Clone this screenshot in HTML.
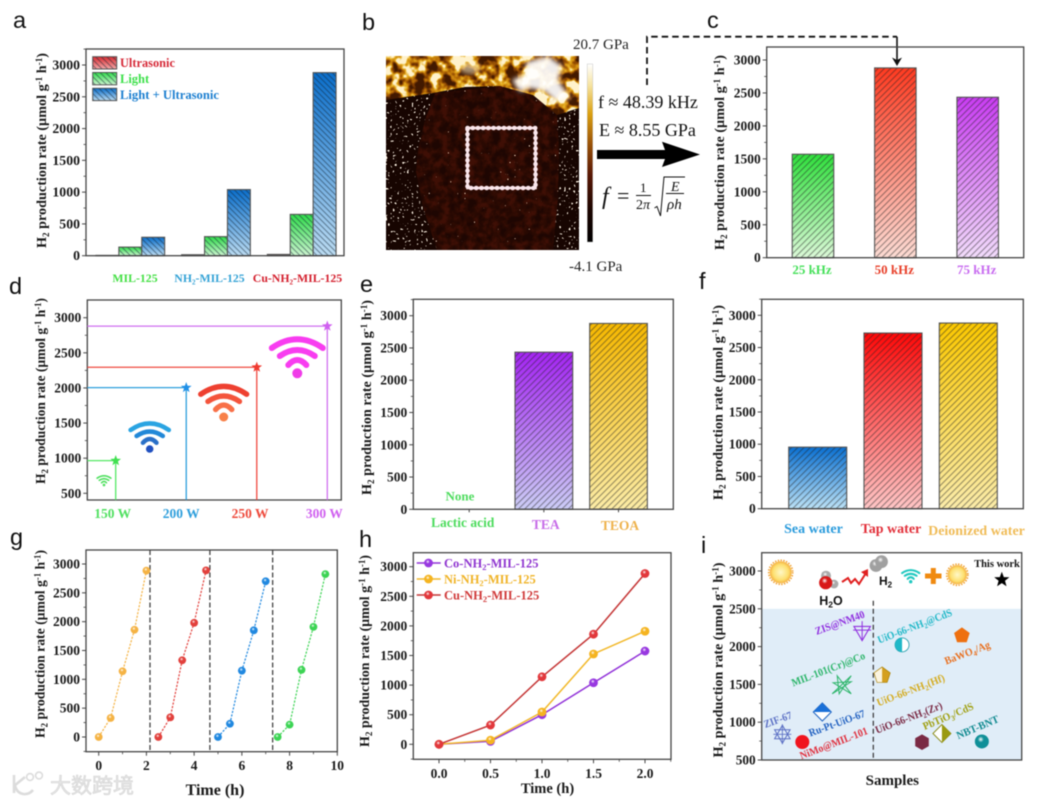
<!DOCTYPE html>
<html lang="en">
<head>
<meta charset="utf-8">
<title>H2 production rate figure</title>
<style>
html,body{margin:0;padding:0;background:#fff;}
svg{display:block;filter:blur(.45px);}
text{font-family:"Liberation Serif","Noto Serif CJK SC",serif;}
.letter{font-family:"Liberation Sans",sans-serif;font-size:23.5px;fill:#111;}
.ytitle{font-weight:bold;font-size:14px;fill:#1a1a1a;text-anchor:middle;}
.il{font-weight:bold;font-size:10.8px;text-anchor:middle;}
.afm{font-size:15px;fill:#222;}
.afmb{font-size:18px;fill:#111;}
</style>
</head>
<body>
<svg id="fig" width="1041" height="803" viewBox="0 0 1041 803" xmlns="http://www.w3.org/2000/svg">
<defs id="defs">
  <pattern id="hatchF" width="4" height="4" patternUnits="userSpaceOnUse" patternTransform="rotate(45)"><rect width="4" height="1.1" fill="#123" fill-opacity=".46"/></pattern>
  <pattern id="hatchB" width="4.4" height="4.4" patternUnits="userSpaceOnUse" patternTransform="rotate(-45)"><rect width="4.4" height="1.1" fill="#222" fill-opacity=".46"/></pattern>
  <linearGradient id="cbar" x1="0" y1="0" x2="0" y2="1">
    <stop offset="0" stop-color="#fff"/><stop offset=".12" stop-color="#f6e3a0"/><stop offset=".28" stop-color="#dba010"/><stop offset=".45" stop-color="#9a5208"/><stop offset=".62" stop-color="#5a1805"/><stop offset=".82" stop-color="#1c0500"/><stop offset="1" stop-color="#000"/>
  </linearGradient>
  <radialGradient id="sunG" cx=".5" cy=".5" r=".5"><stop offset="0" stop-color="#fff8c8"/><stop offset=".7" stop-color="#fde070"/><stop offset="1" stop-color="#f5b040"/></radialGradient>
  <clipPath id="afmClip"><rect x="386" y="56" width="193" height="194"/></clipPath>
  <filter id="goldNoise" x="0" y="0" width="1" height="1" color-interpolation-filters="sRGB">
    <feTurbulence type="fractalNoise" baseFrequency="0.075" numOctaves="3" seed="11" result="n"/>
    <feColorMatrix in="n" type="matrix" values="3.4 0 0 0 -1.2  3.4 0 0 0 -1.2  3.4 0 0 0 -1.2  0 0 0 0 1"/>
    <feComponentTransfer>
      <feFuncR type="table" tableValues=".26 .5 .74 .9 1"/>
      <feFuncG type="table" tableValues=".1 .24 .45 .68 .95"/>
      <feFuncB type="table" tableValues="0 .01 .03 .12 .8"/>
    </feComponentTransfer>
    <feComposite in2="SourceGraphic" operator="in"/>
  </filter>
  <filter id="brownNoise" x="0" y="0" width="1" height="1" color-interpolation-filters="sRGB">
    <feTurbulence type="fractalNoise" baseFrequency="0.12" numOctaves="3" seed="4" result="n"/>
    <feColorMatrix in="n" type="matrix" values="2.5 0 0 0 -.75  2.5 0 0 0 -.75  2.5 0 0 0 -.75  0 0 0 0 1"/>
    <feComponentTransfer>
      <feFuncR type="table" tableValues=".12 .17 .25"/>
      <feFuncG type="table" tableValues=".025 .04 .06"/>
      <feFuncB type="table" tableValues=".01 .01 .02"/>
    </feComponentTransfer>
    <feComposite in2="SourceGraphic" operator="in"/>
  </filter>
  <filter id="speckle" x="0" y="0" width="1" height="1" color-interpolation-filters="sRGB">
    <feTurbulence type="fractalNoise" baseFrequency="0.42" numOctaves="1" seed="9" result="n"/>
    <feColorMatrix in="n" type="matrix" values="0 0 0 0 1  0 0 0 0 .96  0 0 0 0 .9  20 0 0 0 -13"/>
    <feComposite in2="SourceGraphic" operator="in"/>
  </filter>
  <filter id="speckleLow" x="0" y="0" width="1" height="1" color-interpolation-filters="sRGB">
    <feTurbulence type="fractalNoise" baseFrequency="0.42" numOctaves="1" seed="21" result="n"/>
    <feColorMatrix in="n" type="matrix" values="0 0 0 0 1  0 0 0 0 .9  0 0 0 0 .8  20 0 0 0 -15"/>
    <feComposite in2="SourceGraphic" operator="in"/>
  </filter>
  <filter id="soft"><feGaussianBlur stdDeviation="2.4"/></filter>
</defs>
<rect width="1041" height="803" fill="#fff"/>

<!-- Panel letters -->
<text class="letter" x="13" y="28">a</text>
<text class="letter" x="362" y="30">b</text>
<text class="letter" x="707" y="28">c</text>
<text class="letter" x="9" y="294">d</text>
<text class="letter" x="360" y="292">e</text>
<text class="letter" x="699" y="289">f</text>
<text class="letter" x="10" y="545">g</text>
<text class="letter" x="359" y="547">h</text>
<text class="letter" x="701" y="553">i</text>

<!-- Y titles -->
<text class="ytitle" transform="translate(46,150.5) rotate(-90)" textLength="195" lengthAdjust="spacingAndGlyphs">H<tspan dy="3" font-size="9">2</tspan><tspan dy="-3"> production rate (µmol g</tspan><tspan dy="-4" font-size="9">-1</tspan><tspan dy="4"> h</tspan><tspan dy="-4" font-size="9">-1</tspan><tspan dy="4">)</tspan></text>
<text class="ytitle" transform="translate(724,152.5) rotate(-90)" textLength="195" lengthAdjust="spacingAndGlyphs">H<tspan dy="3" font-size="9">2</tspan><tspan dy="-3"> production rate (µmol g</tspan><tspan dy="-4" font-size="9">-1</tspan><tspan dy="4"> h</tspan><tspan dy="-4" font-size="9">-1</tspan><tspan dy="4">)</tspan></text>
<text class="ytitle" transform="translate(45,391) rotate(-90)" textLength="186" lengthAdjust="spacingAndGlyphs">H<tspan dy="3" font-size="9">2</tspan><tspan dy="-3"> production rate (µmol g</tspan><tspan dy="-4" font-size="9">-1</tspan><tspan dy="4"> h</tspan><tspan dy="-4" font-size="9">-1</tspan><tspan dy="4">)</tspan></text>
<text class="ytitle" transform="translate(371,397.5) rotate(-90)" textLength="195" lengthAdjust="spacingAndGlyphs">H<tspan dy="3" font-size="9">2</tspan><tspan dy="-3"> production rate (µmol g</tspan><tspan dy="-4" font-size="9">-1</tspan><tspan dy="4"> h</tspan><tspan dy="-4" font-size="9">-1</tspan><tspan dy="4">)</tspan></text>
<text class="ytitle" transform="translate(722.5,402.5) rotate(-90)" textLength="195" lengthAdjust="spacingAndGlyphs">H<tspan dy="3" font-size="9">2</tspan><tspan dy="-3"> production rate (µmol g</tspan><tspan dy="-4" font-size="9">-1</tspan><tspan dy="4"> h</tspan><tspan dy="-4" font-size="9">-1</tspan><tspan dy="4">)</tspan></text>
<text class="ytitle" transform="translate(44.5,644) rotate(-90)" textLength="188" lengthAdjust="spacingAndGlyphs">H<tspan dy="3" font-size="9">2</tspan><tspan dy="-3"> production rate (µmol g</tspan><tspan dy="-4" font-size="9">-1</tspan><tspan dy="4"> h</tspan><tspan dy="-4" font-size="9">-1</tspan><tspan dy="4">)</tspan></text>
<text class="ytitle" transform="translate(369,651) rotate(-90)" textLength="192" lengthAdjust="spacingAndGlyphs">H<tspan dy="3" font-size="9">2</tspan><tspan dy="-3"> production rate (µmol g</tspan><tspan dy="-4" font-size="9">-1</tspan><tspan dy="4"> h</tspan><tspan dy="-4" font-size="9">-1</tspan><tspan dy="4">)</tspan></text>
<text class="ytitle" transform="translate(722.5,660) rotate(-90)" textLength="195" lengthAdjust="spacingAndGlyphs">H<tspan dy="3" font-size="9">2</tspan><tspan dy="-3"> production rate (µmol g</tspan><tspan dy="-4" font-size="9">-1</tspan><tspan dy="4"> h</tspan><tspan dy="-4" font-size="9">-1</tspan><tspan dy="4">)</tspan></text>

<!-- Panel b: modulus map -->
<g clip-path="url(#afmClip)">
  <rect x="386" y="56" width="193" height="194" fill="#170501"/>
  <rect x="386" y="56" width="193" height="194" fill="#fff" filter="url(#speckle)"/>
  <path d="M435,93 L425,120 L418,150 L416,172 L423,207 L437,250 L553,250 L558,197 L559,150 L557,115 L533,95 L500,86 Z" fill="#fff" filter="url(#brownNoise)"/>
  <path d="M435,93 L425,120 L418,150 L416,172 L423,207 L437,250 L553,250 L558,197 L559,150 L557,115 L533,95 L500,86 Z" fill="#fff" filter="url(#speckleLow)"/>
  <path d="M386,56 H579 V108 L557,115 L533,95 L500,86 L465,87 L433,93 L386,100 Z" fill="#fff" filter="url(#goldNoise)"/>
  <path d="M526,62 L548,56 L562,66 L558,80 L570,98 L556,102 L546,92 L530,88 L520,92 L512,80 L526,74 Z" fill="#fff" fill-opacity=".92" filter="url(#soft)"/>
  <ellipse cx="470" cy="68" rx="10" ry="6" fill="#fff6d0" fill-opacity=".55" filter="url(#soft)"/>
  <rect x="467.5" y="128" width="68" height="60" fill="none" stroke="#fae6ec" stroke-width="2.6"/>
  <rect x="467.5" y="128" width="68" height="60" fill="none" stroke="#fae6ec" stroke-width="4.6" stroke-linecap="round" stroke-dasharray="0.1 5.1"/>
</g>
<rect x="587.3" y="64" width="5.5" height="178" fill="url(#cbar)" stroke="#bbb" stroke-width=".4"/>
<text class="afm" x="573" y="49">20.7 GPa</text>
<text class="afm" x="569" y="271">-4.1 GPa</text>
<text class="afmb" x="598" y="108">f ≈ 48.39 kHz</text>
<text class="afmb" x="599" y="136">E ≈ 8.55 GPa</text>
<polygon points="597,150 665,150 662,141.7 700,154.5 662,167 665,159 597,159" fill="#000"/>
<g fill="#111">
  <text x="602" y="204" font-size="24" font-style="italic">f</text>
  <text x="617" y="203" font-size="22">=</text>
  <text x="640" y="192" font-size="13">1</text>
  <rect x="636" y="195" width="15" height="1"/>
  <text x="636" y="209" font-size="14">2<tspan font-style="italic">π</tspan></text>
  <path d="M654.5,208 L657,206.5 L660.5,216 L664,177 H685" fill="none" stroke="#111" stroke-width="1"/>
  <text x="671" y="191" font-size="14" font-style="italic">E</text>
  <rect x="666" y="193" width="18" height="1"/>
  <text x="667" y="209" font-size="15" font-style="italic">ρh</text>
</g>
<path d="M647,85 V36.7 H897" fill="none" stroke="#111" stroke-width="1.8" stroke-dasharray="6.5 4"/>
<path d="M897,36.7 V60" stroke="#111" stroke-width="1.6" fill="none"/>
<polygon points="892,57.5 897,60 902,57.5 897,66" fill="#111"/>

<!-- Panel a legend -->
<g font-weight="bold" font-size="12.5">
  <text x="120" y="67" fill="#d62a38" textLength="55" lengthAdjust="spacingAndGlyphs">Ultrasonic</text>
  <text x="120" y="83" fill="#3ce04a">Light</text>
  <text x="120" y="99" fill="#1c7fd0" textLength="99" lengthAdjust="spacingAndGlyphs">Light + Ultrasonic</text>
</g>

<!-- Panel h legend -->
<g font-weight="bold" font-size="12.5">
  <text x="444" y="567.5" fill="#8f35d0">Co-NH<tspan dy="2.5" font-size="8.5">2</tspan><tspan dy="-2.5">-MIL-125</tspan></text>
  <text x="444" y="583.5" fill="#f0b428">Ni-NH<tspan dy="2.5" font-size="8.5">2</tspan><tspan dy="-2.5">-MIL-125</tspan></text>
  <text x="444" y="599.5" fill="#d03a3a">Cu-NH<tspan dy="2.5" font-size="8.5">2</tspan><tspan dy="-2.5">-MIL-125</tspan></text>
</g>

<!-- X titles -->
<text x="215" y="795" font-size="16" font-weight="bold" fill="#1a1a1a" text-anchor="middle">Time (h)</text>
<text x="547.5" y="793" font-size="14.5" font-weight="bold" fill="#1a1a1a" text-anchor="middle">Time (h)</text>
<text x="892.3" y="785" font-size="15" font-weight="bold" fill="#1a1a1a" text-anchor="middle">Samples</text>

<!-- Watermark -->
<g>
  <path d="M14,775 V793 M14,786 L25,777 M15,786 C18,796 28,796 33,790" fill="none" stroke="#dcdcdc" stroke-width="2.6"/>
  <circle cx="30" cy="777" r="3.4" fill="none" stroke="#dcdcdc" stroke-width="1.6"/>
  <circle cx="39" cy="775.5" r="3.4" fill="none" stroke="#dcdcdc" stroke-width="1.6"/>
  <text x="50" y="793" font-size="21" fill="#e6e6e6" stroke="#d4d4d4" stroke-width=".6" style="font-family:'Noto Sans CJK SC','WenQuanYi Zen Hei',sans-serif">大数跨境</text>
</g>

<g id="chart-layer"></g>

<!-- Panel i annotations -->
<g>
  <text class="il" transform="translate(779,723) rotate(-20)" fill="#5a6fc4" textLength="29" lengthAdjust="spacingAndGlyphs">ZIF-67</text>
  <text class="il" transform="translate(835,746.5) rotate(-21)" fill="#e0303e" textLength="72" lengthAdjust="spacingAndGlyphs">NiMo@MIL-101</text>
  <text class="il" transform="translate(838,726.5) rotate(-20)" fill="#2060c0" textLength="59" lengthAdjust="spacingAndGlyphs">Ru-Pt-UiO-67</text>
  <text class="il" transform="translate(829.5,672.5) rotate(-21)" fill="#2cb56a" textLength="78" lengthAdjust="spacingAndGlyphs">MIL-101(Cr)@Co</text>
  <text class="il" transform="translate(841,626) rotate(-20)" fill="#9030e0" textLength="52" lengthAdjust="spacingAndGlyphs">ZIS@NM40</text>
  <text class="il" transform="translate(916,629.5) rotate(-21)" fill="#20b8c8" textLength="79" lengthAdjust="spacingAndGlyphs">UiO-66-NH<tspan dy="2.5" font-size="7.5">2</tspan><tspan dy="-2.5">@CdS</tspan></text>
  <text class="il" transform="translate(968.5,656) rotate(-21)" fill="#e87020" textLength="48" lengthAdjust="spacingAndGlyphs">BaWO<tspan dy="2.5" font-size="7.5">4</tspan><tspan dy="-2.5">/Ag</tspan></text>
  <text class="il" transform="translate(912,693.5) rotate(-21)" fill="#d4ac22" textLength="72" lengthAdjust="spacingAndGlyphs">UiO-66-NH<tspan dy="2.5" font-size="7.5">2</tspan><tspan dy="-2.5">(Hf)</tspan></text>
  <text class="il" transform="translate(910,721) rotate(-21)" fill="#7a2a44" textLength="71" lengthAdjust="spacingAndGlyphs">UiO-66-NH<tspan dy="2.5" font-size="7.5">2</tspan><tspan dy="-2.5">(Zr)</tspan></text>
  <text class="il" transform="translate(949.5,719.5) rotate(-23)" fill="#a0a012" textLength="54" lengthAdjust="spacingAndGlyphs">PbTiO<tspan dy="2.5" font-size="7.5">3</tspan><tspan dy="-2.5">/CdS</tspan></text>
  <text class="il" transform="translate(979,730.5) rotate(-23)" fill="#108a90" textLength="45" lengthAdjust="spacingAndGlyphs">NBT-BNT</text>
  <text x="997" y="567" font-size="10.5" font-weight="bold" fill="#111" text-anchor="middle">This work</text>
  <text x="831" y="605" font-size="12.5" font-weight="bold" fill="#111" text-anchor="middle" style="font-family:'Liberation Sans',sans-serif">H<tspan dy="2.5" font-size="8.5">2</tspan><tspan dy="-2.5">O</tspan></text>
  <text x="885.5" y="585" font-size="12" font-weight="bold" fill="#111" text-anchor="middle" style="font-family:'Liberation Sans',sans-serif">H<tspan dy="2.5" font-size="8">2</tspan></text>
</g>

<script>
// ---------- chart data ----------
const rateTicks = [0, 500, 1000, 1500, 2000, 2500, 3000];
const rateTicksFrom500 = [500, 1000, 1500, 2000, 2500, 3000];

const aCategories = ['MIL-125', 'NH₂-MIL-125', 'Cu-NH₂-MIL-125'];
const aUltrasonic = [5, 15, 20];
const aLight = [135, 300, 650];
const aLightUltrasonic = [290, 1040, 2880];

const cCategories = ['25 kHz', '50 kHz', '75 kHz'];
const cValues = [1570, 2880, 2435];

const dCategories = ['150 W', '200 W', '250 W', '300 W'];
const dValues = [965, 2005, 2295, 2880];

const eCategories = ['Lactic acid', 'TEA', 'TEOA'];
const eValues = [0, 2435, 2880];
const eNoneLabel = 'None';

const fCategories = ['Sea water', 'Tap water', 'Deionized water'];
const fValues = [955, 2725, 2880];

const gTimeTicks = [0, 2, 4, 6, 8, 10];
const gBreaks = [2.15, 4.66, 7.29];
const gTimes1 = [0, 0.5, 1, 1.5, 2];
const gValues1 = [0, 330, 1140, 1860, 2885];
const gTimes2 = [2.5, 3, 3.5, 4, 4.5];
const gValues2 = [0, 340, 1330, 1980, 2890];
const gTimes3 = [5, 5.5, 6, 6.5, 7];
const gValues3 = [0, 230, 1150, 1850, 2700];
const gTimes4 = [7.5, 8, 8.5, 9, 9.5];
const gValues4 = [0, 215, 1165, 1910, 2825];

const hTimes = [0, 0.5, 1, 1.5, 2];
const hTimeLabels = ['0.0', '0.5', '1.0', '1.5', '2.0'];
const hCo = [0, 50, 500, 1040, 1575];
const hNi = [0, 70, 545, 1525, 1910];
const hCu = [0, 325, 1140, 1860, 2885];

const iSamples = ['zif-67', 'nimo-mil-101', 'ru-pt-uio-67', 'mil-101-cr-co', 'zis-nm40', 'uio-66-nh2-hf', 'uio-66-nh2-cds', 'uio-66-nh2-zr', 'pbtio3-cds', 'bawo4-ag', 'nbt-bnt', 'this-work'];
const iValues = [840, 738, 1135, 1495, 2205, 1618, 2023, 735, 850, 2146, 745, 2884];

// ---------- helpers ----------
const NS = 'http://www.w3.org/2000/svg';
const layer = document.getElementById('chart-layer');
const defs = document.getElementById('defs');

function add(parent, tag, name, attrs, text) {
  const el = document.createElementNS(NS, tag);
  
  
  for (const k in attrs) el.setAttribute(k, attrs[k]);
  if (text !== undefined) el.textContent = text;
  parent.appendChild(el);
  return el;
}
function linear(v0, p0, v1, p1) {
  const k = (p1 - p0) / (v1 - v0);
  return v => p0 + (v - v0) * k;
}
let gradCount = 0;
function barGrad(top, bottom) {
  const id = 'bg' + (gradCount++);
  const g = add(defs, 'linearGradient', 'bar-gradient', {id: id, x1: 0, y1: 0, x2: 0, y2: 1});
  add(g, 'stop', 'gradient-stop', {offset: 0, 'stop-color': top});
  add(g, 'stop', 'gradient-stop', {offset: 1, 'stop-color': bottom});
  return 'url(#' + id + ')';
}
function ballGrad(color) {
  const id = 'ball' + (gradCount++);
  const g = add(defs, 'radialGradient', 'ball-gradient', {id: id, cx: .42, cy: .35, r: .62});
  add(g, 'stop', 'gradient-stop', {offset: 0, 'stop-color': '#fff'});
  add(g, 'stop', 'gradient-stop', {offset: .35, 'stop-color': color});
  add(g, 'stop', 'gradient-stop', {offset: 1, 'stop-color': color});
  return 'url(#' + id + ')';
}
function drawAxes(g, box, yScale, ticks, minorTop, fontSize, yValueAtBottom) {
  const stroke = '#454545';
  add(g, 'rect', 'plot-frame', {x: box.l, y: box.t, width: box.r - box.l, height: box.b - box.t, fill: 'none', stroke: stroke, 'stroke-width': 1.3});
  ticks.forEach(v => {
    const y = yScale(v);
    add(g, 'line', 'y-tick', {x1: box.l - 4, x2: box.l, y1: y, y2: y, stroke: stroke, 'stroke-width': 1});
    add(g, 'text', 'y-tick-label', {x: box.l - 6, y: y + 4.5, 'font-size': fontSize, 'font-weight': 'bold', 'text-anchor': 'end', fill: '#1a1a1a'}, String(v));
  });
  for (let v = yValueAtBottom + 250; v <= minorTop; v += 500) {
    const y = yScale(v);
    add(g, 'line', 'y-minor-tick', {x1: box.l - 2.5, x2: box.l, y1: y, y2: y, stroke: stroke, 'stroke-width': .8});
  }
}
function drawBar(g, name, cx, w, v, yScale, fill, hatch) {
  const y = yScale(v), h = yScale(0) - y;
  const bar = add(g, 'g', name, {});
  add(bar, 'rect', name + '-fill', {x: cx - w / 2, y: y, width: w, height: h, fill: fill});
  add(bar, 'rect', name + '-hatch', {x: cx - w / 2, y: y, width: w, height: h, fill: 'url(#' + hatch + ')', stroke: '#555', 'stroke-width': 1.1});
}
function catLabel(g, name, x, y, text, color, size) {
  add(g, 'text', name, {x: x, y: y, 'font-size': size, 'font-weight': 'bold', 'text-anchor': 'middle', fill: color}, text);
}
function starPts(cx, cy, r) {
  const p = [];
  for (let i = 0; i < 10; i++) {
    const a = -Math.PI / 2 + i * Math.PI / 5, rr = i % 2 ? r * .42 : r;
    p.push((cx + rr * Math.cos(a)).toFixed(1) + ',' + (cy + rr * Math.sin(a)).toFixed(1));
  }
  return p.join(' ');
}
function polyPts(cx, cy, r, n, rot) {
  const p = [];
  for (let i = 0; i < n; i++) {
    const a = rot + i * 2 * Math.PI / n;
    p.push((cx + r * Math.cos(a)).toFixed(1) + ',' + (cy + r * Math.sin(a)).toFixed(1));
  }
  return p.join(' ');
}
function wifi(g, name, cx, dy, s, colors) {
  const w = add(g, 'g', name, {fill: 'none', 'stroke-linecap': 'round', 'stroke-width': Math.max(6 * s, 1)});
  const arcs = [[25.5, -25.3, -42.8], [17.5, -17.3, -29.3], [9, -8.3, -18.3]];
  arcs.forEach((a, i) => {
    add(w, 'path', name + '-arc', {d: 'M' + (cx - a[0] * s) + ',' + (dy + a[1] * s) + ' Q' + cx + ',' + (dy + a[2] * s) + ' ' + (cx + a[0] * s) + ',' + (dy + a[1] * s), stroke: colors[i]});
  });
  add(w, 'circle', name + '-dot', {cx: cx, cy: dy, r: 5 * s, fill: colors[3], stroke: 'none'});
}

// ---------- panel a ----------
(function () {
  const g = add(layer, 'g', 'panel-a-bar-chart', {});
  const box = {l: 86, r: 344, t: 49, b: 255.7};
  const y = linear(0, 255.7, 3000, 65);
  const x = linear(0, 130.3, 2, 301.7);
  const w = 22.9;
  const fills = [barGrad('#d92a30', '#f4a8a8'), barGrad('#2fdc4a', '#cdf4d0'), barGrad('#0a6ecb', '#bcdcf2')];
  aCategories.forEach((c, i) => {
    drawBar(g, 'bar-ultrasonic', x(i) - w, w, aUltrasonic[i], y, fills[0], 'hatchF');
    drawBar(g, 'bar-light', x(i), w, aLight[i], y, fills[1], 'hatchF');
    drawBar(g, 'bar-light-ultrasonic', x(i) + w, w, aLightUltrasonic[i], y, fills[2], 'hatchF');
  });
  drawAxes(g, box, y, rateTicks, 3250, 13.8, 0);
  const colors = ['#44e044', '#35a3d6', '#d4202e'];
  const xs = [135, 209.5, 297.5];
  aCategories.forEach((c, i) => catLabel(g, 'x-label', xs[i], 282, c, colors[i], 11.8));
  [0, 1, 2].forEach(i => {
    const top = 56.7 + i * 15.8;
    add(g, 'rect', 'legend-swatch', {x: 92.7, y: top, width: 24, height: 12.3, fill: fills[i]});
    add(g, 'rect', 'legend-swatch-hatch', {x: 92.7, y: top, width: 24, height: 12.3, fill: 'url(#hatchF)', stroke: '#555', 'stroke-width': 1});
  });
})();

// ---------- panel c ----------
(function () {
  const g = add(layer, 'g', 'panel-c-bar-chart', {});
  const box = {l: 766.7, r: 1023.7, t: 47, b: 257.7};
  const y = linear(0, 257.7, 3000, 60);
  const x = linear(0, 813, 2, 977.7);
  const fills = [barGrad('#2fe03c', '#dcf9d8'), barGrad('#ff3a20', '#fcdcd4'), barGrad('#c93cf2', '#f2dcfb')];
  cCategories.forEach((c, i) => drawBar(g, 'bar-' + c.replace(' ', '-'), x(i), 41.5, cValues[i], y, fills[i], 'hatchB'));
  drawAxes(g, box, y, rateTicks, 3100, 13.5, 0);
  const colors = ['#46e05a', '#e8402a', '#c86cf0'];
  cCategories.forEach((c, i) => catLabel(g, 'x-label', x(i) - 1, 274, c, colors[i], 13));
})();

// ---------- panel d ----------
(function () {
  const g = add(layer, 'g', 'panel-d-power-chart', {});
  const box = {l: 87.3, r: 341.3, t: 300, b: 500};
  const y = linear(500, 493.3, 3000, 317.7);
  const x = linear(0, 115.7, 3, 327.3);
  const colors = ['#55e866', '#2d9fdc', '#f04a40', '#d070f0'];
  const labelColors = ['#50e060', '#2f9fdc', '#ee4a3c', '#d060f0'];
  const starColors = ['#40e050', '#1f90e8', '#f03a30', '#d060f0'];
  const offs = [-3, -5, -6.7, -3];
  drawAxes(g, box, y, rateTicksFrom500, 3200, 13.5, 500);
  dCategories.forEach((c, i) => {
    const px = x(i), py = y(dValues[i]);
    add(g, 'path', 'guide-line', {d: 'M' + box.l + ',' + py + ' H' + px + ' V' + box.b, fill: 'none', stroke: colors[i], 'stroke-width': 1.3});
    add(g, 'polygon', 'power-point-star', {points: starPts(px, py, 5.6), fill: starColors[i]});
    catLabel(g, 'x-label', px + offs[i], 518, c, labelColors[i], 13.5);
  });
  wifi(g, 'wifi-150w', 104, 485, .27, ['#50e060', '#50e060', '#50e060', '#50e060']);
  wifi(g, 'wifi-200w', 149.7, 449, .75, ['#2aa4e2', '#2288d8', '#2a70c8', '#2050c0']);
  wifi(g, 'wifi-250w', 223.7, 417, .9, ['#ee4030', '#f4543c', '#f87048', '#f88048']);
  wifi(g, 'wifi-300w', 297.3, 373.3, 1, ['#f83cf0', '#f83cf0', '#f83cf0', '#f03ce8']);
})();

// ---------- panel e ----------
(function () {
  const g = add(layer, 'g', 'panel-e-bar-chart', {});
  const box = {l: 413.3, r: 673.3, t: 299.3, b: 509.3};
  const y = linear(0, 509.3, 3000, 315.7);
  const x = linear(0, 469.2, 2, 618.5);
  const fills = [null, barGrad('#a424f2', '#cccdf6'), barGrad('#f6b800', '#fceca6')];
  eCategories.forEach((c, i) => {
    if (eValues[i] > 0) drawBar(g, 'bar-' + c.toLowerCase().replace(' ', '-'), x(i), 57.7, eValues[i], y, fills[i], 'hatchB');
    add(g, 'line', 'x-tick', {x1: x(i), x2: x(i), y1: box.b, y2: box.b + 3, stroke: '#454545', 'stroke-width': 1});
  });
  drawAxes(g, box, y, rateTicks, 3250, 13.5, 0);
  const colors = ['#4fdc5f', '#c76ce8', '#eeb24c'];
  const xs = [462.7, 545.7, 620];
  const ys = [527, 529, 530];
  eCategories.forEach((c, i) => catLabel(g, 'x-label', xs[i], ys[i], c, colors[i], 13.5));
  catLabel(g, 'none-value-label', 460, 500.5, eNoneLabel, '#4fdc5f', 13);
})();

// ---------- panel f ----------
(function () {
  const g = add(layer, 'g', 'panel-f-bar-chart', {});
  const box = {l: 761.7, r: 1023.3, t: 299.3, b: 508.7};
  const y = linear(0, 508.7, 3000, 315.3);
  const x = linear(0, 817.7, 2, 968.3);
  const fills = [barGrad('#0a70d2', '#bce2f6'), barGrad('#ff0808', '#ffc6c6'), barGrad('#fbc800', '#fbecaa')];
  fCategories.forEach((c, i) => drawBar(g, 'bar-' + c.toLowerCase().replace(' ', '-'), x(i), 58, fValues[i], y, fills[i], 'hatchB'));
  drawAxes(g, box, y, rateTicks, 3250, 13.5, 0);
  const colors = ['#2a9bdc', '#e2303a', '#f0bc58'];
  const xs = [813.5, 891, 976.5];
  const ys = [533, 533, 535];
  fCategories.forEach((c, i) => catLabel(g, 'x-label', xs[i], ys[i], c, colors[i], 14));
})();

// ---------- panel g ----------
(function () {
  const g = add(layer, 'g', 'panel-g-cycle-chart', {});
  const box = {l: 86, r: 337.3, t: 550, b: 751.7};
  const y = linear(0, 737, 3000, 564);
  const x = linear(0, 98.7, 10, 337.3);
  drawAxes(g, box, y, rateTicks, 3200, 13.5, -500);
  gTimeTicks.forEach(t => {
    add(g, 'line', 'x-tick', {x1: x(t), x2: x(t), y1: box.b, y2: box.b + 4, stroke: '#454545', 'stroke-width': 1});
    if (t < 10) add(g, 'line', 'x-minor-tick', {x1: x(t + 1), x2: x(t + 1), y1: box.b, y2: box.b + 2.5, stroke: '#454545', 'stroke-width': .8});
    add(g, 'text', 'x-tick-label', {x: x(t), y: 770, 'font-size': 13.5, 'font-weight': 'bold', 'text-anchor': 'middle', fill: '#1a1a1a'}, String(t));
  });
  gBreaks.forEach(b => add(g, 'line', 'cycle-separator', {x1: x(b), x2: x(b), y1: box.t, y2: box.b, stroke: '#444', 'stroke-width': 1.3, 'stroke-dasharray': '5 2.5'}));
  const series = [[gTimes1, gValues1, '#f5b344'], [gTimes2, gValues2, '#e2403c'], [gTimes3, gValues3, '#2088e0'], [gTimes4, gValues4, '#3cd454']];
  series.forEach((s, k) => {
    const pts = s[0].map((t, i) => x(t).toFixed(1) + ',' + y(s[1][i]).toFixed(1)).join(' ');
    add(g, 'polyline', 'cycle-' + (k + 1) + '-line', {points: pts, fill: 'none', stroke: s[2], 'stroke-width': 1.2, 'stroke-dasharray': '2.2 1.4'});
    const ball = ballGrad(s[2]);
    s[0].forEach((t, i) => add(g, 'circle', 'cycle-' + (k + 1) + '-point', {cx: x(t), cy: y(s[1][i]), r: 3.9, fill: ball}));
  });
})();

// ---------- panel h ----------
(function () {
  const g = add(layer, 'g', 'panel-h-line-chart', {});
  const box = {l: 413.3, r: 671, t: 552.7, b: 759.3};
  const y = linear(0, 744.3, 3000, 566.7);
  const x = linear(0, 439, 2, 645);
  drawAxes(g, box, y, rateTicks, 3200, 13.5, -500);
  hTimes.forEach((t, i) => {
    add(g, 'line', 'x-tick', {x1: x(t), x2: x(t), y1: box.b, y2: box.b + 4, stroke: '#454545', 'stroke-width': 1});
    add(g, 'line', 'x-minor-tick', {x1: x(t + .25), x2: x(t + .25), y1: box.b, y2: box.b + 2.5, stroke: '#454545', 'stroke-width': .8});
    add(g, 'text', 'x-tick-label', {x: x(t), y: 778, 'font-size': 13.5, 'font-weight': 'bold', 'text-anchor': 'middle', fill: '#1a1a1a'}, hTimeLabels[i]);
  });
  const series = [[hCo, '#9030d8', '#9838e0', 'co'], [hNi, '#f2b828', '#f5b420', 'ni'], [hCu, '#c43434', '#e2383c', 'cu']];
  series.forEach((s, k) => {
    const pts = hTimes.map((t, i) => x(t).toFixed(1) + ',' + y(s[0][i]).toFixed(1)).join(' ');
    add(g, 'polyline', s[3] + '-line', {points: pts, fill: 'none', stroke: s[1], 'stroke-width': 1.5});
    const ball = ballGrad(s[2]);
    hTimes.forEach((t, i) => add(g, 'circle', s[3] + '-point', {cx: x(t), cy: y(s[0][i]), r: 4.4, fill: ball}));
    const ly = 563 + k * 16;
    add(g, 'line', s[3] + '-legend-line', {x1: 416.7, x2: 440.7, y1: ly, y2: ly, stroke: s[1], 'stroke-width': 1.5});
    add(g, 'circle', s[3] + '-legend-point', {cx: 428.5, cy: ly, r: 4.4, fill: ball});
  });
})();

// ---------- panel i ----------
function sampleMarker(g, name, cx, cy) {
  if (name === 'zif-67') {
    add(g, 'polygon', 'marker-' + name, {points: polyPts(cx, cy, 9, 3, -Math.PI / 2), fill: 'none', stroke: '#5a6fc4', 'stroke-width': 1});
    add(g, 'polygon', 'marker-' + name + '-b', {points: polyPts(cx, cy, 9, 3, Math.PI / 2), fill: 'none', stroke: '#5a6fc4', 'stroke-width': 1});
    add(g, 'path', 'marker-' + name + '-c', {d: 'M' + cx + ',' + (cy - 10) + ' V' + (cy + 10) + ' M' + (cx - 9) + ',' + cy + ' H' + (cx + 9), stroke: '#5a6fc4', 'stroke-width': .9});
  } else if (name === 'nimo-mil-101') {
    add(g, 'circle', 'marker-' + name, {cx: cx, cy: cy, r: 7, fill: '#f0141e'});
  } else if (name === 'ru-pt-uio-67') {
    add(g, 'polygon', 'marker-' + name, {points: polyPts(cx, cy, 9, 4, 0), fill: '#fff', stroke: '#1a60c0', 'stroke-width': 1});
    add(g, 'polygon', 'marker-' + name + '-fill', {points: (cx - 9) + ',' + cy + ' ' + cx + ',' + (cy - 9) + ' ' + (cx + 9) + ',' + cy, fill: '#1a70d8'});
  } else if (name === 'mil-101-cr-co') {
    add(g, 'polygon', 'marker-' + name, {points: [cx - 10, cy + 9, cx + 9, cy - 9, cx - 3, cy + 9, cx - 5, cy - 9, cx + 9, cy + 9, cx - 9, cy - 2, cx + 9, cy - 3].join(' '), fill: 'none', stroke: '#2cb56a', 'stroke-width': 1});
  } else if (name === 'zis-nm40') {
    add(g, 'polygon', 'marker-' + name, {points: polyPts(cx, cy, 9.5, 3, Math.PI / 2), fill: 'none', stroke: '#9030e0', 'stroke-width': 1.1});
    add(g, 'path', 'marker-' + name + '-cross', {d: 'M' + cx + ',' + (cy - 10) + ' V' + (cy + 9) + ' M' + (cx - 9) + ',' + (cy - 1) + ' H' + (cx + 9), stroke: '#9030e0', 'stroke-width': 1});
  } else if (name === 'uio-66-nh2-hf') {
    add(g, 'polygon', 'marker-' + name, {points: polyPts(cx, cy, 8.5, 5, -Math.PI / 2), fill: '#d4a020', stroke: '#b08810', 'stroke-width': .8});
    add(g, 'polygon', 'marker-' + name + '-half', {points: cx + ',' + (cy - 8) + ' ' + (cx - 7.7) + ',' + (cy - 2.5) + ' ' + (cx - 4.8) + ',' + (cy + 6.6) + ' ' + cx + ',' + (cy + 6.6), fill: '#fbf4e0'});
  } else if (name === 'uio-66-nh2-cds') {
    add(g, 'circle', 'marker-' + name, {cx: cx, cy: cy, r: 7, fill: '#fff', stroke: '#1a9aa8', 'stroke-width': .8});
    add(g, 'path', 'marker-' + name + '-half', {d: 'M' + cx + ',' + (cy - 7) + ' A7,7 0 0 0 ' + cx + ',' + (cy + 7) + ' Z', fill: '#20b8c8'});
  } else if (name === 'uio-66-nh2-zr') {
    add(g, 'polygon', 'marker-' + name, {points: polyPts(cx, cy, 7.8, 6, -Math.PI / 2), fill: '#7a2a44'});
  } else if (name === 'pbtio3-cds') {
    add(g, 'polygon', 'marker-' + name, {points: polyPts(cx, cy, 9, 4, 0), fill: '#fff', stroke: '#888810', 'stroke-width': .9});
    add(g, 'polygon', 'marker-' + name + '-fill', {points: cx + ',' + (cy - 9) + ' ' + (cx + 9) + ',' + cy + ' ' + cx + ',' + (cy + 9), fill: '#9a9a10'});
  } else if (name === 'bawo4-ag') {
    add(g, 'polygon', 'marker-' + name, {points: polyPts(cx, cy, 8.2, 5, -Math.PI / 2), fill: '#ee7010'});
  } else if (name === 'nbt-bnt') {
    add(g, 'circle', 'marker-' + name, {cx: cx, cy: cy, r: 7, fill: ballGrad('#0f8f98')});
  } else {
    add(g, 'polygon', 'marker-' + name, {points: starPts(cx, cy, 8), fill: '#000'});
  }
}
(function () {
  const g = add(layer, 'g', 'panel-i-comparison-chart', {});
  const box = {l: 761.7, r: 1021.7, t: 552.7, b: 760};
  const y = linear(500, 760, 3000, 571);
  const x = linear(0, 762.4, 12, 1001.8);
  add(g, 'rect', 'literature-zone', {x: box.l, y: y(2500), width: box.r - box.l, height: y(500) - y(2500), fill: '#e0edf8'});
  add(g, 'line', 'zone-divider', {x1: 873.3, x2: 873.3, y1: 600.7, y2: 760, stroke: '#333', 'stroke-width': 1.2, 'stroke-dasharray': '5 3'});
  iSamples.forEach((s, i) => sampleMarker(g, s, x(i + 1), y(iValues[i])));
  drawAxes(g, box, y, rateTicksFrom500, 3200, 13.3, 500);

  function sun(cx, cy, r) {
    add(g, 'circle', 'sun-rays', {cx: cx, cy: cy, r: r + 1, fill: 'none', stroke: '#f0a030', 'stroke-width': 1.6, 'stroke-dasharray': '1.4 1.4'});
    add(g, 'circle', 'sun', {cx: cx, cy: cy, r: r, fill: 'url(#sunG)'});
  }
  sun(780.7, 572.3, 11);
  sun(957.3, 574.7, 9.6);
  add(g, 'circle', 'water-h-atom', {cx: 826, cy: 575.7, r: 5, fill: ballGrad('#aaaaaa')});
  add(g, 'circle', 'water-h-atom', {cx: 834, cy: 584, r: 4.4, fill: ballGrad('#aaaaaa')});
  add(g, 'circle', 'water-o-atom', {cx: 825.7, cy: 582.7, r: 6.6, fill: ballGrad('#d81818')});
  add(g, 'polyline', 'reaction-arrow', {points: '842,582 848,578 851,583 855,579 859,584 866,573', fill: 'none', stroke: '#e02020', 'stroke-width': 2});
  add(g, 'polygon', 'reaction-arrow-head', {points: '861,572 868,569 868,577', fill: '#e02020'});
  add(g, 'circle', 'h2-atom', {cx: 876, cy: 565.5, r: 6.4, fill: ballGrad('#a0a0a0')});
  add(g, 'circle', 'h2-atom', {cx: 881.5, cy: 561.7, r: 6.4, fill: ballGrad('#a0a0a0')});
  wifi(g, 'wifi-icon', 910.7, 581.7, .34, ['#20c8c0', '#20c8c0', '#20c8c0', '#20c8c0']);
  add(g, 'path', 'plus-icon', {d: 'M925,576 H941.5 M933.3,568 V584', stroke: '#f08a10', 'stroke-width': 5});
})();
</script>
</svg>
</body>
</html>
